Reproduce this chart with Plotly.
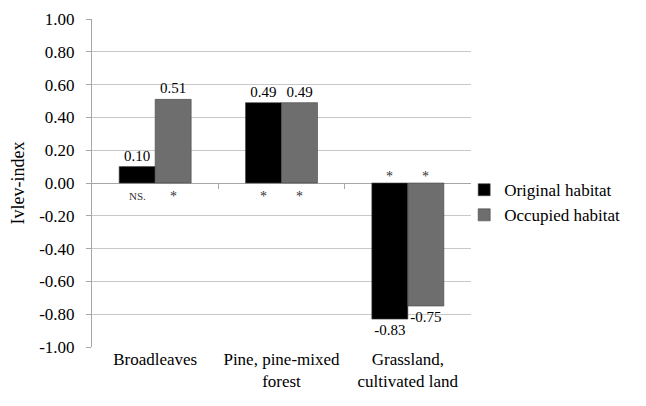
import plotly.graph_objects as go

categories = ["Broadleaves", "Pine, pine-mixed<br>forest", "Grassland,<br>cultivated land"]
original = [0.10, 0.49, -0.83]
occupied = [0.51, 0.49, -0.75]
sig_original = ["NS.", "*", "*"]
sig_occupied = ["*", "*", "*"]
yticks = [-1.0, -0.8, -0.6, -0.4, -0.2, 0.0, 0.2, 0.4, 0.6, 0.8, 1.0]
ytick_text = [f"{v:.2f}" for v in yticks]

FONT = "Liberation Serif, Times New Roman, serif"
fig = go.Figure()
fig.add_trace(go.Bar(
    x=categories, y=original, name="Original habitat",
    marker=dict(color="#000000", line=dict(color="#444444", width=0.6)),
    text=[f"{v:.2f}" for v in original], textposition="outside",
    textfont=dict(family=FONT, size=15, color="#000000"), cliponaxis=False,
))
fig.add_trace(go.Bar(
    x=categories, y=occupied, name="Occupied habitat",
    marker=dict(color="#6e6e6e", line=dict(color="#444444", width=0.6)),
    text=[f"{v:.2f}" for v in occupied], textposition="outside",
    textfont=dict(family=FONT, size=15, color="#000000"), cliponaxis=False,
))

# significance marks
for i, cat in enumerate(categories):
    for marks, vals, shift in ((sig_original, original, -18), (sig_occupied, occupied, 18)):
        m = marks[i]
        neg = vals[i] < 0
        fig.add_annotation(
            x=cat, y=0, xref="x", yref="y", text=m, showarrow=False,
            xshift=shift, yshift=7 if neg else -13,
            font=dict(family=FONT, size=11 if m == "NS." else 14, color="#333333"),
        )

# page body adds an 8px offset; figure sized to fit the window
fig.update_layout(
    width=638, height=398,
    margin=dict(l=84, r=175, t=11, b=59, autoexpand=False),
    paper_bgcolor="white", plot_bgcolor="white",
    barmode="group", bargap=0.43, bargroupgap=0,
    font=dict(family=FONT, size=17, color="#000000"),
    showlegend=True,
    legend=dict(x=0.982, y=0.44, xanchor="left", yanchor="middle",
                font=dict(family=FONT, size=17, color="#000000"),
                itemwidth=30, tracegroupgap=0, bgcolor="rgba(0,0,0,0)"),
    xaxis=dict(showgrid=False, showline=False, ticks="", automargin=False,
               tickfont=dict(family=FONT, size=17)),
    xaxis2=dict(overlaying="x", anchor="free", position=0.5, range=[0, 3],
                tickvals=[1, 2], ticks="outside", ticklen=5, tickcolor="#a6a6a6",
                showticklabels=False, showgrid=False, showline=False, zeroline=False,
                automargin=False),
    yaxis=dict(range=[-1.0, 1.0], tickvals=yticks, ticktext=ytick_text,
               showgrid=True, gridcolor="#c8c8c8", gridwidth=1,
               zeroline=True, zerolinecolor="#a6a6a6", zerolinewidth=1,
               showline=True, linecolor="#a6a6a6", linewidth=1,
               ticks="outside", ticklen=5, tickcolor="#a6a6a6", automargin=False,
               ticklabelstandoff=8, ticklabeloverflow="allow",
               tickfont=dict(family=FONT, size=17),
               title=dict(text="Ivlev-index", font=dict(family=FONT, size=18), standoff=10)),
)
# invisible trace to activate xaxis2
fig.add_trace(go.Scatter(x=[0, 3], y=[0, 0], xaxis="x2", mode="markers",
                         marker=dict(opacity=0), showlegend=False, hoverinfo="skip"))
fig.write_html("out.html")
